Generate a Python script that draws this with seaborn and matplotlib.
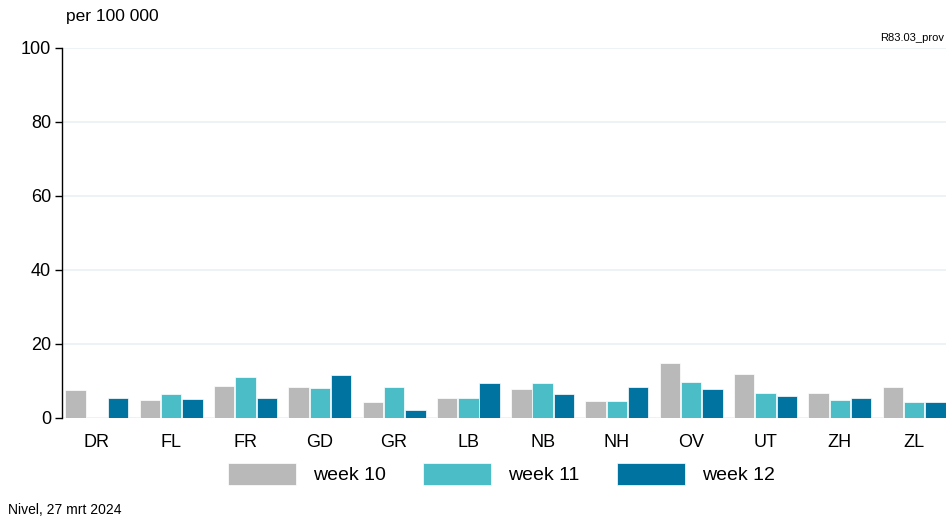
import numpy as np
import pandas as pd
import seaborn as sns
import matplotlib.pyplot as plt

# data
provinces = ["DR", "FL", "FR", "GD", "GR", "LB", "NB", "NH", "OV", "UT", "ZH", "ZL"]
week10 = [7.6, 5.0, 8.7, 8.4, 4.4, 5.5, 7.9, 4.7, 14.9, 11.9, 6.8, 8.4]
week11 = [np.nan, 6.6, 11.1, 8.0, 8.4, 5.5, 9.5, 4.7, 9.8, 6.8, 4.9, 4.4]
week12 = [5.5, 5.2, 5.5, 11.7, 2.2, 9.5, 6.5, 8.4, 7.9, 5.9, 5.5, 4.4]
weeks = ["week 10", "week 11", "week 12"]
colors = ["#bab9ba", "#4bbdc6", "#0073a0"]

df = pd.DataFrame({"prov": provinces, "week 10": week10, "week 11": week11, "week 12": week12})
df = df.melt(id_vars="prov", var_name="week", value_name="value")

sns.set_style("white")
plt.rcParams["font.family"] = ["Liberation Sans", "DejaVu Sans"]
plt.rcParams["text.color"] = "black"
plt.rcParams["xtick.color"] = "black"
plt.rcParams["ytick.color"] = "black"

fig = plt.figure(figsize=(9.51, 5.21), dpi=100)
ax = fig.add_axes([62 / 951, 1 - 418 / 521, 884 / 951, 370 / 521])

sns.barplot(data=df, x="prov", y="value", hue="week", hue_order=weeks,
            palette=colors, width=0.86, gap=0.04, saturation=1,
            edgecolor="white", linewidth=0.5, ax=ax)

ax.set_ylim(0, 100)
ax.set_xlim(-0.47, 11.43)
ax.set_yticks([0, 20, 40, 60, 80, 100])
ax.yaxis.grid(True, color="#eaf0f2", linewidth=1.2)
ax.set_axisbelow(True)
for s in ["top", "right", "bottom"]:
    ax.spines[s].set_visible(False)
ax.spines["left"].set_color("black")
ax.spines["left"].set_linewidth(1)
ax.tick_params(axis="y", left=True, length=5, width=1, labelsize=13, pad=3,
               color="black", labelcolor="black")
ax.tick_params(axis="x", bottom=False, labelsize=13, pad=8, labelcolor="black")
ax.set_xlabel("")
ax.set_ylabel("")

ax.legend(loc="upper center", bbox_to_anchor=(0.497, -0.073), ncol=3, frameon=False,
          fontsize=14, handlelength=3.5, handleheight=1.4, columnspacing=1.9,
          handletextpad=0.9, labelcolor="black")

fig.text(66 / 951, 1 - 17 / 521, "per 100 000", fontsize=12.5, va="center")
fig.text(944 / 951, 1 - 38 / 521, "R83.03_prov", fontsize=8, ha="right", va="center")
fig.text(8 / 951, 1 - 510 / 521, "Nivel, 27 mrt 2024", fontsize=10, va="center")

fig.savefig("out.png", dpi=100)
